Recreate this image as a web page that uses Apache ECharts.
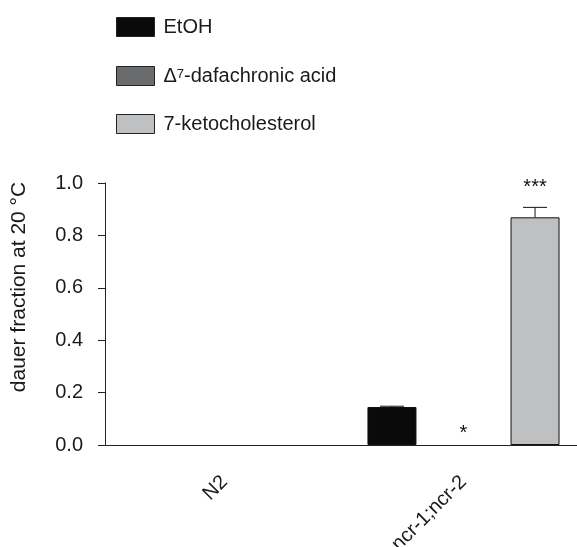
<!DOCTYPE html>
<html><head><meta charset="utf-8">
<script src="https://cdn.jsdelivr.net/npm/echarts@6/dist/echarts.min.js"></script>
<style>html,body{margin:0;padding:0;background:#fff}#c{width:577px;height:547px}</style>
</head><body><div id="c"></div>
<script>
var categories = ['N2', 'ncr-1;ncr-2'];
var seriesNames = ['EtOH', '\u0394\u2077-dafachronic acid', '7-ketocholesterol'];
var etoh = [0, 0.145];
var dafa = [0, 0];
var keto = [0, 0.869];
var etohErr = [0, 0.003];
var dafaErr = [0, 0];
var ketoErr = [0, 0.038];
var etohStars = ['', ''];
var dafaStars = ['', '*'];
var ketoStars = ['', '***'];
var yTicks = [0, 0.2, 0.4, 0.6, 0.8, 1.0];

var colors = ['#0a0a0a', '#6a6b6d', '#bfc0c2'];
var values = [etoh, dafa, keto];
var errs = [etohErr, dafaErr, ketoErr];
var stars = [etohStars, dafaStars, ketoStars];
var BW = 49, GAP = 0.46;
var FONT = '"Liberation Sans", Arial, sans-serif';
var FS = 20;

var series = [];
values.forEach(function (v, i) {
  series.push({
    name: seriesNames[i], type: 'bar', barWidth: BW, barGap: (GAP * 100) + '%',
    data: v.map(function (val) {
      return val === 0 ? { value: val, itemStyle: { borderWidth: 0, opacity: 0 } } : val;
    }),
    itemStyle: { color: colors[i], borderColor: '#111', borderWidth: 1 },
    emphasis: { disabled: true }
  });
});
values.forEach(function (v, i) {
  var d = v.map(function (val, k) { return [k, val, errs[i][k]]; });
  series.push({
    type: 'custom', data: d, silent: true, z: 5,
    renderItem: function (params, api) {
      var k = api.value(0), val = api.value(1), e = api.value(2);
      var star = stars[i][params.dataIndex];
      var base = api.coord([k, val]);
      var x = base[0] + (i - 1) * BW * (1 + GAP);
      var top = api.coord([k, val + e]);
      var children = [];
      if (e > 0) {
        children.push({ type: 'line', shape: { x1: x, y1: base[1], x2: x, y2: top[1] }, style: { stroke: '#111', lineWidth: 1 } });
        children.push({ type: 'line', shape: { x1: x - 12, y1: top[1], x2: x + 12, y2: top[1] }, style: { stroke: '#111', lineWidth: 1 } });
      }
      if (star) {
        var off = e > 0 ? 23 : 15;
        children.push({ type: 'text', style: { x: x, y: top[1] - off + 3, text: star, fill: '#111', font: FS + 'px ' + FONT, align: 'center', verticalAlign: 'middle' } });
      }
      return { type: 'group', children: children };
    }
  });
});

var chart = echarts.init(document.getElementById('c'));
chart.setOption({
  animation: false,
  textStyle: { fontFamily: FONT },
  legend: {
    data: seriesNames, orient: 'vertical', left: 111, top: 12, itemWidth: 38, itemHeight: 19, itemGap: 28,
    icon: 'rect', itemStyle: { borderColor: '#222', borderWidth: 1 },
    formatter: function (name) {
      if (name.charAt(0) === '\u0394') {
        return '{a|\u0394}{s|7}{a|' + name.slice(2) + '}';
      }
      return name;
    },
    textStyle: {
      fontSize: FS, color: '#1a1a1a', fontFamily: FONT, padding: [0, 0, 0, 4],
      rich: {
        a: { fontSize: FS, lineHeight: 22, color: '#1a1a1a', fontFamily: FONT },
        s: { fontSize: 13, lineHeight: 13, verticalAlign: 'top', color: '#1a1a1a', fontFamily: FONT, padding: [3, 0, 0, 0] }
      }
    }, selectedMode: false
  },
  grid: { left: 105, top: 183, width: 478, height: 262, outerBoundsMode: 'none' },
  xAxis: {
    type: 'category', data: categories,
    axisLine: { lineStyle: { color: '#222', width: 1 } },
    axisTick: { alignWithLabel: true, length: 7, lineStyle: { color: '#222' } },
    axisLabel: { rotate: 45, margin: 34, fontSize: FS, color: '#1a1a1a', fontFamily: FONT }
  },
  yAxis: {
    type: 'value', min: 0, max: 1, interval: 0.2,
    axisLine: { show: true, lineStyle: { color: '#222', width: 1 } },
    axisTick: { show: true, length: 7, lineStyle: { color: '#222' } },
    splitLine: { show: false },
    axisLabel: { margin: 22, fontSize: FS, color: '#1a1a1a', fontFamily: FONT, formatter: function (v) { return v.toFixed(1); } },
    name: 'dauer fraction at 20 \u00b0C', nameLocation: 'middle', nameGap: 75,
    nameTextStyle: { fontSize: 21, color: '#1a1a1a', fontFamily: FONT, padding: [0, 0, 0, 54] }
  },
  series: series
});
</script></body></html>
